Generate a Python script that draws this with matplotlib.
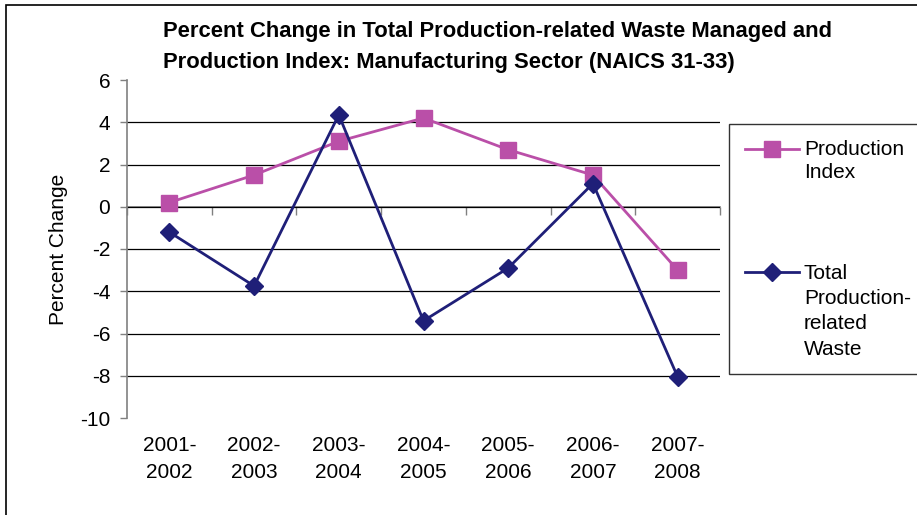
import numpy as np
import matplotlib
matplotlib.use("Agg")
import matplotlib.pyplot as plt
from matplotlib.legend_handler import HandlerLine2D
from matplotlib.patches import Rectangle

plt.rcParams['font.family'] = ['Liberation Sans', 'DejaVu Sans']
plt.rcParams['axes.unicode_minus'] = False

# data
periods = ['2001-\n2002', '2002-\n2003', '2003-\n2004', '2004-\n2005',
           '2005-\n2006', '2006-\n2007', '2007-\n2008']
production_index = [0.2, 1.5, 3.1, 4.2, 2.7, 1.5, -3.0]
total_waste = [-1.2, -3.75, 4.35, -5.4, -2.9, 1.1, -8.05]
yticks = [6, 4, 2, 0, -2, -4, -6, -8, -10]

pink = '#BA4FA8'
navy = '#1F1F78'
fs = 15


class FirstLineHandler(HandlerLine2D):
    # put the legend handle next to the first line of a multi-line label
    def __init__(self, shift, **kw):
        super().__init__(**kw)
        self.shift = shift

    def create_artists(self, legend, orig_handle, xdescent, ydescent,
                       width, height, fontsize, trans):
        arts = super().create_artists(legend, orig_handle, xdescent, ydescent,
                                      width, height, fontsize, trans)
        for a in arts:
            a.set_ydata(np.asarray(a.get_ydata()) + self.shift * fontsize)
        return arts


fig = plt.figure(figsize=(9.17, 5.15), dpi=100)
ax = fig.add_axes([127/917, 1-418/515, 593/917, 338/515])

x = np.arange(len(periods))
l1, = ax.plot(x, production_index, color=pink, lw=2, marker='s', ms=11,
              label='Production\nIndex', zorder=3)
l2, = ax.plot(x, total_waste, color=navy, lw=2, marker='D', ms=9,
              label='Total\nProduction-\nrelated\nWaste', zorder=4)

ax.set_xlim(-0.5, len(periods) - 0.5)
ax.set_ylim(-10, 6)
ax.set_yticks(yticks)
ax.tick_params(axis='y', labelsize=fs, length=5, width=1, color='#808080', pad=7)
ax.set_xticks(x)
ax.set_xticklabels(periods, fontsize=fs, linespacing=1.5)
ax.tick_params(axis='x', length=0, pad=13)

ax.yaxis.grid(True, color='black', lw=0.9)
gl = ax.get_ygridlines()
gl[0].set_visible(False)
gl[-1].set_visible(False)
ax.set_axisbelow(True)

for s in ['top', 'right', 'bottom']:
    ax.spines[s].set_visible(False)
ax.spines['left'].set_color('#808080')
ax.spines['left'].set_linewidth(1.2)

# category axis drawn at zero
sec = ax.secondary_xaxis(10/16)
sec.set_xticks(np.arange(len(periods) + 1) - 0.5)
sec.set_xticklabels([])
sec.tick_params(length=6, width=1, color='#808080', direction='in')
sec.spines['bottom'].set_color('#808080')
sec.spines['bottom'].set_linewidth(1.2)
sec.spines['top'].set_color('#808080')
sec.spines['top'].set_linewidth(1.2)

ax.set_ylabel('Percent Change', fontsize=fs)
ax.yaxis.set_label_coords(-0.1, 0.5)

fig.text(163/917, 1-21/515,
         'Percent Change in Total Production-related Waste Managed and\n'
         'Production Index: Manufacturing Sector (NAICS 31-33)',
         fontsize=15.8, fontweight='bold', ha='left', va='top', linespacing=1.6)

leg = fig.legend(handles=[l1, l2], loc='upper left',
                 bbox_to_anchor=(729/917, 1-124/515), fontsize=fs,
                 frameon=True, fancybox=False, edgecolor='black',
                 handlelength=2.6, handletextpad=0.25, labelspacing=3.9,
                 borderpad=0.75, borderaxespad=0,
                 handler_map={l1: FirstLineHandler(0.58),
                              l2: FirstLineHandler(1.88)})
leg.get_frame().set_linewidth(1.0)
leg.get_texts()[0].set_linespacing(1.32)
leg.get_texts()[1].set_linespacing(1.42)

fig.patches.append(Rectangle((6/917, -0.1), 2, 1.1 - 5/515, transform=fig.transFigure,
                             fill=False, edgecolor='black', lw=1.2))

fig.savefig('out.png', dpi=100)
